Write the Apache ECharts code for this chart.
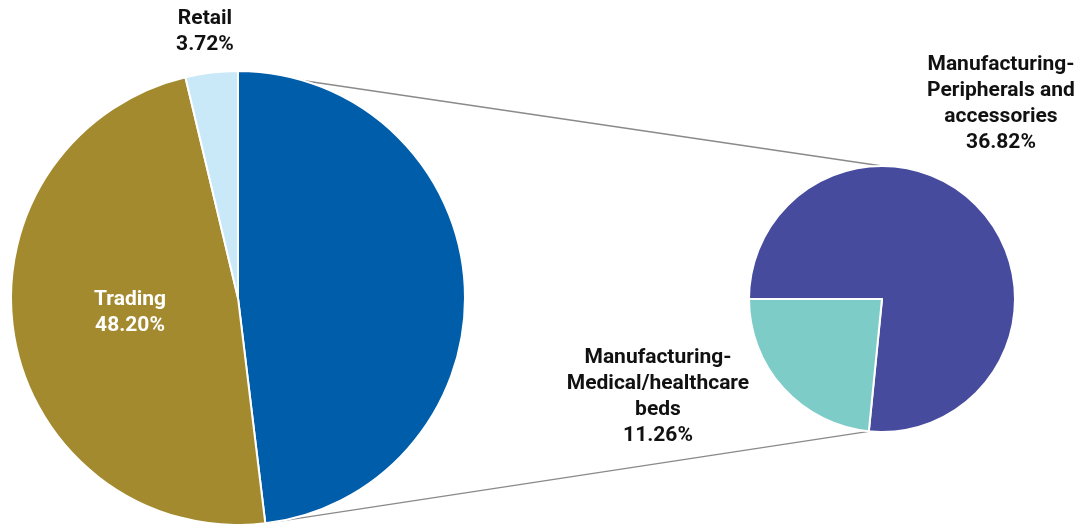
<!DOCTYPE html>
<html>
<head>
<meta charset="utf-8">
<script src="https://cdn.jsdelivr.net/npm/echarts@6/dist/echarts.min.js"></script>
<style>
html,body{margin:0;padding:0;background:#fff;}
#main{width:1078px;height:524px;}
</style>
</head>
<body>
<div id="main"></div>
<script>
// ---- data ----
const mainCategories = ['Manufacturing', 'Trading', 'Retail'];
const mainValues = [48.08, 48.20, 3.72];
const subCategories = ['Manufacturing-\nPeripherals and\naccessories', 'Manufacturing-\nMedical/healthcare\nbeds'];
const subValues = [36.82, 11.26];

// ---- layout / style ----
const mainColors = ['#005DAA', '#A38A2F', '#C9E8F8'];
const subColors = ['#464B9E', '#7ECCC8'];
const C1 = [238, 298], R1 = 227;
const C2 = [882, 299], R2 = 133;
const FONT = 'Roboto, "Liberation Sans", sans-serif';

const chart = echarts.init(document.getElementById('main'), null, {renderer: 'canvas'});

const labelStyle = {
  fontFamily: FONT, fontWeight: 'bold', fontSize: 21, lineHeight: 26,
  color: '#111', align: 'center', overflow: 'none', alignTo: 'none'
};

const mainData = mainCategories.map((n, i) => ({
  name: n, value: mainValues[i], itemStyle: {color: mainColors[i]},
  label: i === 0 ? {show: false} :
    (i === 1 ? {show: true, position: 'inside', color: '#fff'} : {show: true, position: 'outside'})
}));
const subData = subCategories.map((n, i) => ({
  name: n, value: subValues[i], itemStyle: {color: subColors[i]},
  label: {show: true, position: 'outside'}
}));

// label anchor offsets (relative to pie centers)
const mainLabelPos = {1: [130 - C1[0], 313 - C1[1]], 2: [205 - C1[0], 32 - C1[1]]};
const subLabelPos = {0: [1001 - C2[0], 104 - C2[1]], 1: [658 - C2[0], 397 - C2[1]]};

// connector lines computed from the pie geometry
const total1 = mainValues.reduce((a, b) => a + b, 0);
const total2 = subValues.reduce((a, b) => a + b, 0);
function pt(c, r, degFromTop) {
  const a = degFromTop * Math.PI / 180;
  return [c[0] + r * Math.sin(a), c[1] - r * Math.cos(a)];
}
const splitEnd = mainValues[0] / total1 * 360;
const subStartFromTop = 270; // second pie starts at 9 o'clock
const p1 = pt(C1, R1, 0);
const p2 = pt(C2, R2, 0);
const p3 = pt(C1, R1, splitEnd);
const p4 = pt(C2, R2, subStartFromTop + subValues[0] / total2 * 360);

chart.setOption({
  animation: false,
  backgroundColor: '#fff',
  series: [
    {
      type: 'pie', center: C1, radius: [0, R1], startAngle: 90, clockwise: true,
      itemStyle: {borderColor: '#fff', borderWidth: 2},
      label: Object.assign({formatter: p => p.name + '\n' + p.value.toFixed(2) + '%'}, labelStyle),
      labelLine: {show: false},
      labelLayout: p => {
        const o = mainLabelPos[p.dataIndex];
        if (!o) return {};
        return {x: C1[0] + o[0], y: C1[1] + o[1], align: 'center', verticalAlign: 'middle'};
      },
      emphasis: {disabled: true},
      data: mainData
    },
    {
      type: 'pie', center: C2, radius: [0, R2], startAngle: 180, clockwise: true,
      itemStyle: {borderColor: '#fff', borderWidth: 2},
      label: Object.assign({formatter: p => p.name + '\n' + p.value.toFixed(2) + '%'}, labelStyle),
      labelLine: {show: false},
      labelLayout: p => {
        const o = subLabelPos[p.dataIndex];
        return {x: C2[0] + o[0], y: C2[1] + o[1], align: 'center', verticalAlign: 'middle'};
      },
      emphasis: {disabled: true},
      data: subData
    }
  ],
  graphic: [
    {type: 'line', shape: {x1: p1[0], y1: p1[1], x2: p2[0], y2: p2[1]}, style: {stroke: '#8a8a8a', lineWidth: 1.3}, z: -1},
    {type: 'line', shape: {x1: p3[0], y1: p3[1], x2: p4[0], y2: p4[1]}, style: {stroke: '#8a8a8a', lineWidth: 1.3}, z: -1}
  ]
});
</script>
</body>
</html>
